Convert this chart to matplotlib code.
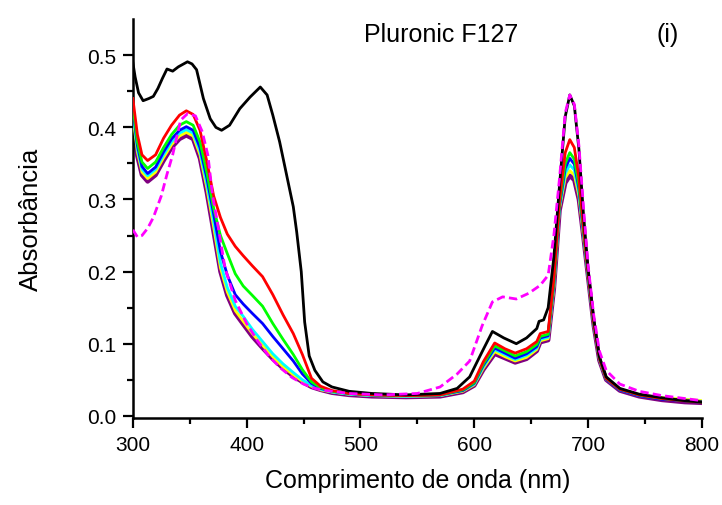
import matplotlib.pyplot as plt
import numpy as np

plt.rcParams['font.family'] = ['Liberation Sans', 'DejaVu Sans']

# common wavelength grid for the six coloured spectra (nm)
wl = [300, 304, 308, 313, 320, 327, 334, 341, 347, 353, 359, 365, 371, 377,
      383, 390, 397, 405, 414, 423, 432, 441, 449, 457, 465, 475, 490, 510,
      540, 570, 590, 600, 608, 618, 627, 636, 646, 655, 658, 665, 670, 675,
      680, 684, 688, 692, 696, 700, 705, 710, 716, 728, 745, 765, 785, 800]

red = [0.440, 0.390, 0.362, 0.354, 0.362, 0.385, 0.403, 0.417, 0.423, 0.418,
       0.396, 0.353, 0.305, 0.275, 0.252, 0.235, 0.222, 0.208, 0.193, 0.168,
       0.140, 0.114, 0.085, 0.052, 0.041, 0.035, 0.031, 0.029, 0.028, 0.029,
       0.037, 0.048, 0.075, 0.101, 0.093, 0.087, 0.093, 0.103, 0.114, 0.117,
       0.190, 0.300, 0.365, 0.383, 0.372, 0.330, 0.262, 0.200, 0.130, 0.080,
       0.052, 0.037, 0.029, 0.024, 0.021, 0.019]

green = [0.430, 0.380, 0.352, 0.343, 0.352, 0.372, 0.390, 0.403, 0.408, 0.403,
         0.380, 0.338, 0.288, 0.250, 0.225, 0.197, 0.180, 0.167, 0.152, 0.128,
         0.106, 0.085, 0.064, 0.047, 0.039, 0.034, 0.031, 0.029, 0.028, 0.029,
         0.036, 0.046, 0.072, 0.097, 0.090, 0.083, 0.089, 0.099, 0.110, 0.113,
         0.185, 0.295, 0.350, 0.365, 0.356, 0.320, 0.258, 0.198, 0.129, 0.080,
         0.052, 0.037, 0.029, 0.024, 0.021, 0.019]

blue = [0.425, 0.375, 0.346, 0.336, 0.345, 0.366, 0.384, 0.396, 0.401, 0.396,
        0.372, 0.330, 0.280, 0.228, 0.195, 0.168, 0.155, 0.142, 0.128, 0.110,
        0.093, 0.076, 0.058, 0.045, 0.038, 0.034, 0.031, 0.029, 0.028, 0.029,
        0.035, 0.045, 0.070, 0.094, 0.087, 0.080, 0.086, 0.096, 0.108, 0.111,
        0.183, 0.292, 0.343, 0.357, 0.349, 0.315, 0.255, 0.197, 0.128, 0.079,
        0.051, 0.036, 0.028, 0.023, 0.021, 0.019]

cyan = [0.420, 0.370, 0.342, 0.333, 0.342, 0.362, 0.380, 0.392, 0.397, 0.392,
        0.367, 0.322, 0.270, 0.212, 0.178, 0.152, 0.138, 0.120, 0.103, 0.086,
        0.072, 0.060, 0.050, 0.042, 0.037, 0.033, 0.030, 0.028, 0.027, 0.028,
        0.035, 0.044, 0.068, 0.092, 0.085, 0.078, 0.084, 0.094, 0.106, 0.109,
        0.180, 0.290, 0.336, 0.348, 0.341, 0.310, 0.253, 0.196, 0.128, 0.079,
        0.051, 0.036, 0.028, 0.024, 0.022, 0.020]

yellow = [0.415, 0.366, 0.338, 0.329, 0.338, 0.358, 0.376, 0.388, 0.393, 0.388,
          0.362, 0.316, 0.262, 0.205, 0.172, 0.146, 0.131, 0.114, 0.098, 0.082,
          0.068, 0.057, 0.048, 0.041, 0.036, 0.033, 0.030, 0.028, 0.027, 0.028,
          0.034, 0.043, 0.066, 0.089, 0.082, 0.076, 0.081, 0.092, 0.104, 0.107,
          0.178, 0.288, 0.330, 0.340, 0.334, 0.305, 0.250, 0.195, 0.127, 0.078,
          0.051, 0.037, 0.029, 0.025, 0.023, 0.021]

purple = [0.405, 0.360, 0.334, 0.325, 0.334, 0.354, 0.372, 0.384, 0.389, 0.384,
          0.357, 0.310, 0.255, 0.200, 0.167, 0.142, 0.127, 0.110, 0.094, 0.079,
          0.066, 0.055, 0.047, 0.040, 0.036, 0.032, 0.029, 0.027, 0.026, 0.027,
          0.033, 0.042, 0.064, 0.086, 0.080, 0.074, 0.079, 0.090, 0.102, 0.105,
          0.176, 0.285, 0.323, 0.333, 0.327, 0.300, 0.248, 0.194, 0.126, 0.077,
          0.050, 0.035, 0.027, 0.022, 0.019, 0.018]

# black spectrum (own grid)
wl_k = [300, 302, 305, 309, 314, 318, 322, 326, 330, 335, 340, 348, 352, 356,
        362, 368, 373, 378, 385, 394, 403, 412, 418, 423, 429, 435, 441, 444,
        448, 451, 455, 460, 467, 475, 490, 510, 540, 570, 585, 596, 607, 616,
        626, 637, 646, 655, 657, 661, 665, 670, 675, 680, 684, 688, 692, 696,
        700, 705, 710, 716, 728, 745, 765, 785, 800]
black = [0.490, 0.470, 0.448, 0.437, 0.440, 0.443, 0.454, 0.468, 0.481, 0.478,
         0.484, 0.491, 0.488, 0.480, 0.440, 0.412, 0.400, 0.396, 0.403, 0.426,
         0.442, 0.456, 0.445, 0.417, 0.380, 0.335, 0.290, 0.255, 0.200, 0.130,
         0.083, 0.063, 0.047, 0.040, 0.034, 0.031, 0.029, 0.031, 0.038, 0.054,
         0.089, 0.117, 0.108, 0.100, 0.108, 0.121, 0.131, 0.133, 0.150, 0.220,
         0.320, 0.415, 0.445, 0.430, 0.370, 0.280, 0.205, 0.135, 0.082, 0.054,
         0.038, 0.030, 0.025, 0.021, 0.019]

# magenta dashed spectrum (own grid)
wl_m = [300, 304, 308, 313, 318, 325, 330, 335, 342, 348, 355, 361, 366, 370,
        375, 381, 390, 400, 410, 420, 430, 440, 450, 460, 470, 490, 520, 550,
        570, 585, 596, 607, 616, 625, 637, 648, 658, 665, 670, 675, 680, 684,
        688, 692, 696, 700, 705, 710, 716, 728, 745, 765, 785, 800]
magenta = [0.258, 0.248, 0.250, 0.260, 0.275, 0.305, 0.335, 0.362, 0.410, 0.419,
           0.416, 0.394, 0.361, 0.306, 0.262, 0.205, 0.160, 0.128, 0.103, 0.082,
           0.066, 0.053, 0.044, 0.038, 0.035, 0.031, 0.029, 0.031, 0.040, 0.058,
           0.076, 0.125, 0.158, 0.165, 0.162, 0.170, 0.181, 0.195, 0.250, 0.330,
           0.420, 0.445, 0.432, 0.375, 0.290, 0.210, 0.140, 0.090, 0.063, 0.044,
           0.034, 0.028, 0.024, 0.021]


def main():
    fig = plt.figure(figsize=(7.22, 5.06), dpi=100)
    ax = fig.add_axes([0.184, 0.172, 0.788, 0.788])

    ax.plot(wl, purple, color='#800080', lw=3.2, zorder=2)
    ax.plot(wl, yellow, color='#ffff00', lw=2.0, zorder=3)
    ax.plot(wl, cyan, color='#00ffff', lw=2.0, zorder=3)
    ax.plot(wl, blue, color='#0000ff', lw=2.0, zorder=3)
    ax.plot(wl, green, color='#00ff00', lw=2.0, zorder=3)
    ax.plot(wl, red, color='#ff0000', lw=2.0, zorder=3)
    ax.plot(wl_k, black, color='black', lw=2.0, zorder=4)
    ax.plot(wl_m, magenta, color='#ff00ff', lw=2.0, ls=(0, (3, 1.5)), zorder=5)

    ax.set_xlim(300, 800)
    ax.set_ylim(-0.003, 0.55)
    ax.set_xticks(np.arange(300, 801, 100))
    ax.set_xticks(np.arange(350, 800, 100), minor=True)
    ax.set_yticks(np.arange(0, 0.51, 0.1))
    ax.set_yticks(np.arange(0.05, 0.55, 0.1), minor=True)
    ax.yaxis.set_major_formatter(plt.FormatStrFormatter('%.1f'))

    for s in ['top', 'right']:
        ax.spines[s].set_visible(False)
    for s in ['left', 'bottom']:
        ax.spines[s].set_linewidth(1.8)
    ax.tick_params(which='major', direction='out', length=7, width=1.6,
                   labelsize=15, pad=5)
    ax.tick_params(which='minor', direction='out', length=4, width=1.6)

    ax.set_xlabel('Comprimento de onda (nm)', fontsize=18, labelpad=10)
    ax.set_ylabel('Absorbância', fontsize=18.5, labelpad=32)

    ax.text(0.541, 0.963, 'Pluronic F127', transform=ax.transAxes,
            fontsize=18, ha='center', va='center')
    ax.text(0.94, 0.963, '(i)', transform=ax.transAxes,
            fontsize=18, ha='center', va='center')

    fig.savefig('out.png', dpi=100)


if __name__ == "__main__":
    main()
